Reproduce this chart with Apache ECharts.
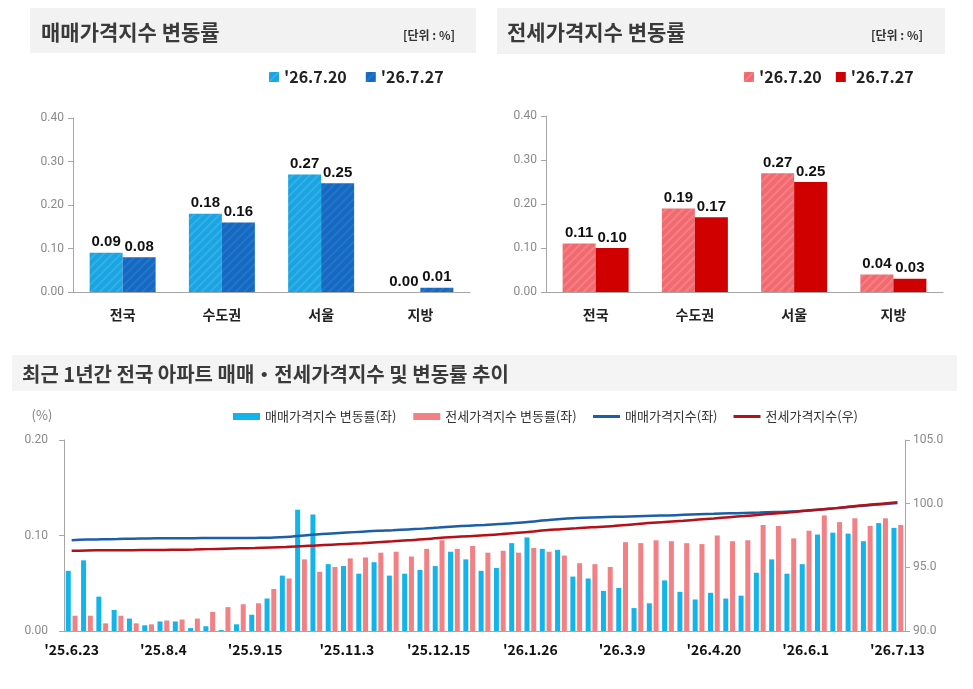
<!DOCTYPE html>
<html><head><meta charset="utf-8">
<script src="https://cdn.jsdelivr.net/npm/echarts@6/dist/echarts.min.js"></script>
<style>html,body{margin:0;padding:0;background:#fff}#c{width:973px;height:689px}</style>
</head><body><div id="c"></div>
<script>
// ---- data ----
const regions = ['전국', '수도권', '서울', '지방'];
const saleWeek1 = [0.09, 0.18, 0.27, 0.00];   // '26.7.20
const saleWeek2 = [0.08, 0.16, 0.25, 0.01];   // '26.7.27
const rentWeek1 = [0.11, 0.19, 0.27, 0.04];
const rentWeek2 = [0.10, 0.17, 0.25, 0.03];
const weekNames = ["'26.7.20", "'26.7.27"];

const weeks = ["'25.6.23","'25.6.30","'25.7.7","'25.7.14","'25.7.21","'25.7.28","'25.8.4","'25.8.11","'25.8.18","'25.8.25",
  "'25.9.1","'25.9.8","'25.9.15","'25.9.22","'25.9.29","'25.10.13","'25.10.20","'25.10.27","'25.11.3","'25.11.10",
  "'25.11.17","'25.11.24","'25.12.1","'25.12.8","'25.12.15","'25.12.22","'25.12.29","'26.1.5","'26.1.12","'26.1.19",
  "'26.1.26","'26.2.2","'26.2.9","'26.2.16","'26.2.23","'26.3.2","'26.3.9","'26.3.16","'26.3.23","'26.3.30",
  "'26.4.6","'26.4.13","'26.4.20","'26.4.27","'26.5.4","'26.5.11","'26.5.18","'26.5.25","'26.6.1","'26.6.8",
  "'26.6.15","'26.6.22","'26.6.29","'26.7.6","'26.7.13"];
const saleRate = [0.063,0.074,0.036,0.022,0.013,0.006,0.010,0.010,0.003,0.005,0.001,0.007,0.017,0.034,0.058,0.127,0.122,0.070,0.068,0.060,
  0.072,0.058,0.060,0.064,0.068,0.083,0.075,0.063,0.066,0.092,0.098,0.086,0.085,0.057,0.055,0.042,0.045,0.024,0.029,0.053,
  0.041,0.033,0.040,0.034,0.037,0.061,0.075,0.060,0.070,0.101,0.103,0.102,0.094,0.113,0.108];
const rentRate = [0.016,0.016,0.008,0.016,0.008,0.007,0.011,0.012,0.013,0.020,0.025,0.028,0.029,0.044,0.055,0.075,0.062,0.067,0.076,0.077,
  0.082,0.083,0.078,0.086,0.095,0.086,0.089,0.082,0.084,0.082,0.087,0.083,0.079,0.071,0.070,0.067,0.093,0.092,0.095,0.094,
  0.092,0.091,0.100,0.094,0.095,0.111,0.110,0.097,0.105,0.121,0.114,0.118,0.110,0.118,0.111];
const saleIndex = [97.13,97.18,97.2,97.22,97.25,97.27,97.28,97.29,97.29,97.3,97.3,97.3,97.31,97.33,97.38,97.48,97.58,97.66,97.73,97.8,
  97.87,97.92,97.98,98.04,98.12,98.2,98.27,98.33,98.4,98.48,98.58,98.7,98.8,98.87,98.92,98.95,98.98,99.02,99.05,99.08,
  99.12,99.16,99.2,99.24,99.27,99.3,99.34,99.38,99.45,99.55,99.65,99.76,99.86,99.95,100.05];
const rentIndex = [96.3,96.33,96.34,96.35,96.35,96.36,96.37,96.38,96.4,96.43,96.46,96.49,96.52,96.56,96.6,96.65,96.72,96.78,96.84,96.9,
  96.97,97.04,97.12,97.2,97.3,97.38,97.45,97.52,97.6,97.7,97.8,97.92,98.0,98.07,98.14,98.2,98.3,98.4,98.5,98.58,
  98.66,98.75,98.84,98.94,99.03,99.13,99.23,99.33,99.45,99.55,99.65,99.78,99.9,100.0,100.12];
const leftTicks = [0, 0.4, 0.1];
const bottomLeftTicks = [0, 0.2, 0.1];
const bottomRightTicks = [90, 105, 5];

// ---- chart ----
const KR = "'Noto Sans CJK KR', 'Noto Sans', sans-serif";
const NARROW = "'Liberation Sans Narrow', 'Arial Narrow', 'Liberation Sans', sans-serif";
const axisGray = '#a6a6a6';
const hatch = (c) => ({ symbol: 'rect', symbolSize: 1, color: c, dashArrayX: [1, 0], dashArrayY: [2, 4], rotation: -Math.PI / 4 });

function topY(grid) {
  return { type: 'value', gridIndex: grid, min: leftTicks[0], max: leftTicks[1], interval: leftTicks[2],
    axisLine: { show: true, lineStyle: { color: axisGray } },
    axisTick: { show: true, length: 5, lineStyle: { color: axisGray } },
    splitLine: { show: false },
    axisLabel: { color: '#8a8a8a', fontSize: 12, fontFamily: 'Roboto, sans-serif', margin: 9, formatter: v => v.toFixed(2) } };
}
function topX(grid) {
  return { type: 'category', gridIndex: grid, data: regions,
    axisLine: { lineStyle: { color: axisGray } },
    axisTick: { length: 5, lineStyle: { color: axisGray } },
    axisLabel: { color: '#222', fontSize: 14, fontWeight: 'bold', fontFamily: KR, margin: 16 } };
}
const valLabel = { show: true, position: 'top', distance: 3, color: '#111', fontSize: 15, fontWeight: 'bold',
  fontFamily: NARROW, formatter: p => p.value.toFixed(2) };

function topBar(name, x, data, color, decalColor) {
  const s = { type: 'bar', name: name, xAxisIndex: x, yAxisIndex: x, data: data, barWidth: 33, barGap: '0%',
    itemStyle: { color: color }, label: valLabel };
  if (decalColor) s.itemStyle.decal = hatch(decalColor);
  return s;
}

const legendFmt = n => n.replace(/^\S+ /, '');

const option = {
  animation: false,
  backgroundColor: '#fff',
  graphic: [
    { type: 'rect', shape: { x: 30, y: 8, width: 446, height: 45 }, style: { fill: '#f2f2f2' } },
    { type: 'rect', shape: { x: 497, y: 8, width: 448, height: 46 }, style: { fill: '#f2f2f2' } },
    { type: 'rect', shape: { x: 12, y: 355, width: 945, height: 36 }, style: { fill: '#f4f4f4' } },
    { type: 'text', x: 41, y: 32, style: { text: '매매가격지수 변동률', font: "bold 21px " + KR, fill: '#3a3a3a', textVerticalAlign: 'middle' } },
    { type: 'text', x: 455, y: 35, style: { text: '[단위 : %]', font: "bold 12px " + KR, fill: '#333', textAlign: 'right', textVerticalAlign: 'middle' } },
    { type: 'text', x: 507, y: 32, style: { text: '전세가격지수 변동률', font: "bold 21px " + KR, fill: '#3a3a3a', textVerticalAlign: 'middle' } },
    { type: 'text', x: 923, y: 35, style: { text: '[단위 : %]', font: "bold 12px " + KR, fill: '#333', textAlign: 'right', textVerticalAlign: 'middle' } },
    { type: 'text', x: 22, y: 374, style: { text: '최근 1년간 전국 아파트 매매・전세가격지수 및 변동률 추이', font: "bold 20px " + KR, fill: '#3a3a3a', textVerticalAlign: 'middle' } },
    { type: 'text', x: 42, y: 415, style: { text: '(%)', font: "13px " + KR, fill: '#808080', textAlign: 'center', textVerticalAlign: 'middle' } }
  ],
  legend: [
    { left: 264, top: 64, itemWidth: 10, itemHeight: 10, itemGap: 19, icon: 'rect', selectedMode: false,
      data: ['매매 ' + weekNames[0], '매매 ' + weekNames[1]], formatter: legendFmt,
      textStyle: { fontSize: 16, fontWeight: 'bold', color: '#222', fontFamily: KR } },
    { left: 739, top: 64, itemWidth: 10, itemHeight: 10, itemGap: 14, icon: 'rect', selectedMode: false,
      data: ['전세 ' + weekNames[0], '전세 ' + weekNames[1]], formatter: legendFmt,
      textStyle: { fontSize: 16, fontWeight: 'bold', color: '#222', fontFamily: KR } },
    { left: 228, top: 405, itemWidth: 27, itemHeight: 7, itemGap: 17, icon: 'rect', selectedMode: false,
      data: ['매매가격지수 변동률(좌)', '전세가격지수 변동률(좌)'],
      textStyle: { fontSize: 13, color: '#333', fontFamily: KR } },
    { left: 588, top: 405, itemWidth: 27, itemHeight: 3, itemGap: 16, icon: 'rect', selectedMode: false,
      data: ['매매가격지수(좌)', '전세가격지수(우)'],
      textStyle: { fontSize: 13, color: '#333', fontFamily: KR } }
  ],
  grid: [
    { left: 73, right: 503, top: 118, bottom: 397 },
    { left: 546, right: 30, top: 116, bottom: 397 },
    { left: 64, right: 68, top: 440, bottom: 58 }
  ],
  xAxis: [
    topX(0), topX(1),
    { type: 'category', gridIndex: 2, data: weeks,
      axisLine: { lineStyle: { color: axisGray } },
      axisTick: { length: 5, interval: 0, lineStyle: { color: axisGray } },
      axisLabel: { interval: 5, color: '#111', fontSize: 14, fontWeight: 'bold', fontFamily: KR, margin: 12 } }
  ],
  yAxis: [
    topY(0), topY(1),
    { type: 'value', gridIndex: 2, min: bottomLeftTicks[0], max: bottomLeftTicks[1], interval: bottomLeftTicks[2],
      axisLine: { show: true, lineStyle: { color: axisGray } },
      axisTick: { show: true, length: 5, lineStyle: { color: axisGray } }, splitLine: { show: false },
      axisLabel: { color: '#8a8a8a', fontSize: 12, fontFamily: 'Roboto, sans-serif', margin: 16, formatter: v => v.toFixed(2) } },
    { type: 'value', gridIndex: 2, position: 'right', min: bottomRightTicks[0], max: bottomRightTicks[1], interval: bottomRightTicks[2],
      axisLine: { show: true, lineStyle: { color: axisGray } },
      axisTick: { show: true, length: 5, lineStyle: { color: axisGray } }, splitLine: { show: false },
      axisLabel: { color: '#8a8a8a', fontSize: 12, fontFamily: 'Roboto, sans-serif', margin: 8, formatter: v => v.toFixed(1) } }
  ],
  series: [
    topBar('매매 ' + weekNames[0], 0, saleWeek1, '#19a4e2', 'rgba(255,255,255,0.12)'),
    topBar('매매 ' + weekNames[1], 0, saleWeek2, '#1469c2', 'rgba(255,255,255,0.08)'),
    topBar('전세 ' + weekNames[0], 1, rentWeek1, '#f26a70', 'rgba(255,255,255,0.15)'),
    topBar('전세 ' + weekNames[1], 1, rentWeek2, '#d00000', null),
    { type: 'bar', name: '매매가격지수 변동률(좌)', xAxisIndex: 2, yAxisIndex: 2, data: saleRate, barWidth: 5, barGap: '35%',
      itemStyle: { color: '#12b4ec' } },
    { type: 'bar', name: '전세가격지수 변동률(좌)', xAxisIndex: 2, yAxisIndex: 2, data: rentRate, barWidth: 5, barGap: '35%',
      itemStyle: { color: '#f28085' } },
    { type: 'line', name: '매매가격지수(좌)', xAxisIndex: 2, yAxisIndex: 3, data: saleIndex, symbol: 'none', smooth: true,
      lineStyle: { color: '#1b5fa8', width: 2.5 }, itemStyle: { color: '#1b5fa8' } },
    { type: 'line', name: '전세가격지수(우)', xAxisIndex: 2, yAxisIndex: 3, data: rentIndex, symbol: 'none', smooth: true,
      lineStyle: { color: '#b50f17', width: 2.5 }, itemStyle: { color: '#b50f17' } }
  ]
};
const chart = echarts.init(document.getElementById('c'), null, { renderer: 'canvas' });
chart.setOption(option);
</script>
</body></html>
